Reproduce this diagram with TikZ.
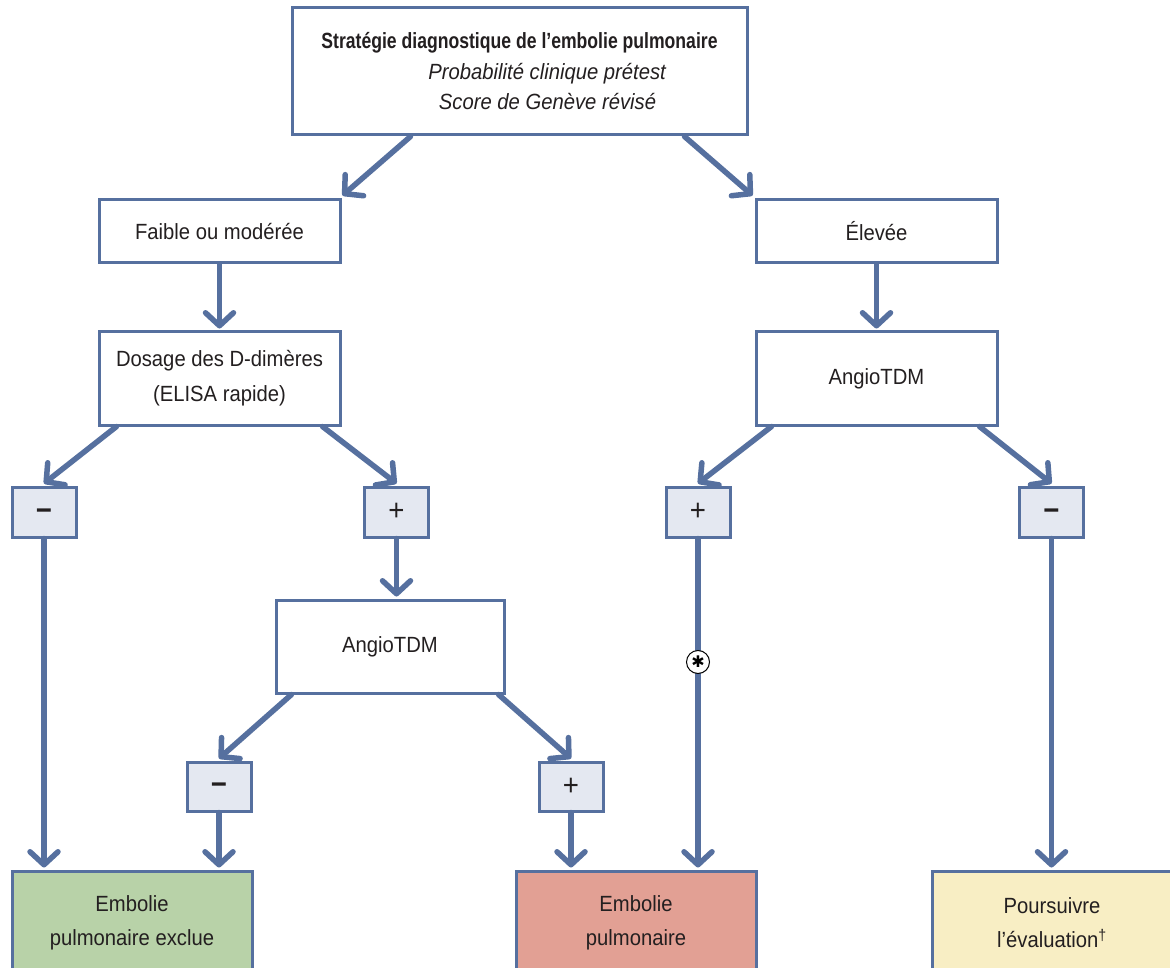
\documentclass[tikz,border=0pt]{standalone}
\usepackage{fontspec}
\setmainfont{Liberation Sans}[FakeStretch=0.92]
\newfontfamily\titlefont{Liberation Sans}[FakeStretch=0.80]
\newfontfamily\symfont{DejaVu Sans}
\usetikzlibrary{arrows.meta,calc}
\definecolor{edgeblue}{HTML}{56709F}
\definecolor{signfill}{HTML}{E4E8F1}
\definecolor{okgreen}{HTML}{B8D2A8}
\definecolor{epred}{HTML}{E2A094}
\definecolor{evalyellow}{HTML}{F8EEC4}
\definecolor{txt}{HTML}{231F20}
\newcommand{\minussign}{\raisebox{-8pt}[0pt][0pt]{\textbf{−}}}
\tikzset{
  box/.style={draw=edgeblue, line width=3pt, fill=white, inner sep=0pt, align=center,
    text=txt, font=\fontsize{22}{35}\selectfont},
  signbox/.style={box, fill=signfill, minimum width=64pt, minimum height=50pt, font=\fontsize{30}{30}\selectfont},
  conn/.style={draw=edgeblue, line width=5.5pt, line cap=round,
    -{Straight Barb[length=13pt,width=28pt,round]}},
}
\begin{document}
\begin{tikzpicture}[x=1pt,y=-1pt]
\useasboundingbox (0,0) rectangle (1170,968);
\fill[white] (0,0) rectangle (1170,968);
% nodes
\node[box, minimum width=455pt, minimum height=127pt, font=\fontsize{22}{30.5}\selectfont] (top) at (519.5,71.5)
  {{\titlefont\bfseries Stratégie diagnostique de l’embolie pulmonaire}\\\hspace*{56pt}\textit{Probabilité clinique prétest}\\\hspace*{56pt}\textit{Score de Genève révisé}};
\node[box, minimum width=241pt, minimum height=63pt] (faible) at (219.5,231.5) {Faible ou modérée};
\node[box, minimum width=241pt, minimum height=63pt] (elevee) at (876.5,231.5) {Élevée};
\node[box, minimum width=241pt, minimum height=93pt] (dosage) at (219.5,378.5) {Dosage des D-dimères\\(ELISA rapide)};
\node[box, minimum width=241pt, minimum height=93pt] (angioR) at (876.5,378.5) {AngioTDM};
\node[signbox] (minusL) at (44,512) {\minussign};
\node[signbox] (plusL) at (396.5,512) {+};
\node[signbox] (plusR) at (698,512) {+};
\node[signbox] (minusR) at (1051.5,512) {\minussign};
\node[box, minimum width=228pt, minimum height=93pt] (angioM) at (390,646.5) {AngioTDM};
\node[signbox, minimum height=49pt] (minusM) at (219,786.5) {\minussign};
\node[signbox, minimum height=49pt] (plusM) at (571,786.5) {+};
\node[box, fill=okgreen, minimum width=240pt, minimum height=104pt, font=\fontsize{22}{34}\selectfont] (exclue) at (132,923) {Embolie\\pulmonaire exclue};
\node[box, fill=epred, minimum width=240pt, minimum height=104pt, font=\fontsize{22}{34}\selectfont] (ep) at (636,923) {Embolie\\pulmonaire};
\node[box, fill=evalyellow, minimum width=240pt, minimum height=104pt, font=\fontsize{22}{34}\selectfont] (eval) at (1052,923) {Poursuivre\\l’évaluation\textsuperscript{†}};
% connectors
\draw[conn] ([xshift=120pt]top.south west) -- ([xshift=1pt,yshift=3pt]faible.north east);
\draw[conn] ([xshift=-64pt]top.south east) -- ([xshift=-2pt,yshift=3pt]elevee.north west);
\draw[conn] (faible.south) -- ([yshift=2pt]dosage.north);
\draw[conn] (elevee.south) -- ([yshift=2pt]angioR.north);
\draw[conn] ([xshift=19pt]dosage.south west) -- ([yshift=2pt]minusL.north);
\draw[conn] ([xshift=-19pt]dosage.south east) -- ([yshift=2pt]plusL.north);
\draw[conn] (plusL.south) -- ([yshift=2pt]angioM.north -| plusL);
\draw[conn] ([xshift=17pt]angioM.south west) -- ([yshift=2pt]minusM.north);
\draw[conn] ([xshift=-7pt]angioM.south east) -- ([yshift=2pt]plusM.north);
\draw[conn] (minusM.south) -- ([yshift=2pt]exclue.north -| minusM);
\draw[conn] (plusM.south) -- ([yshift=2pt]ep.north -| plusM);
\draw[conn] (minusL.south) -- ([yshift=2pt]exclue.north -| minusL);
\draw[conn] ([xshift=17pt]angioR.south west) -- ([yshift=2pt]plusR.north);
\draw[conn] ([xshift=-19pt]angioR.south east) -- ([yshift=2pt]minusR.north);
\draw[conn] (plusR.south) -- ([yshift=2pt]ep.north -| plusR);
\draw[conn] (minusR.south) -- ([yshift=2pt]eval.north -| minusR);
% asterisk marker
\node[circle, draw=black, fill=white, line width=1pt, minimum size=23pt, inner sep=0pt,
  font=\symfont\fontsize{16}{16}\selectfont] (star) at (698,662) {✱};
\end{tikzpicture}
\end{document}
